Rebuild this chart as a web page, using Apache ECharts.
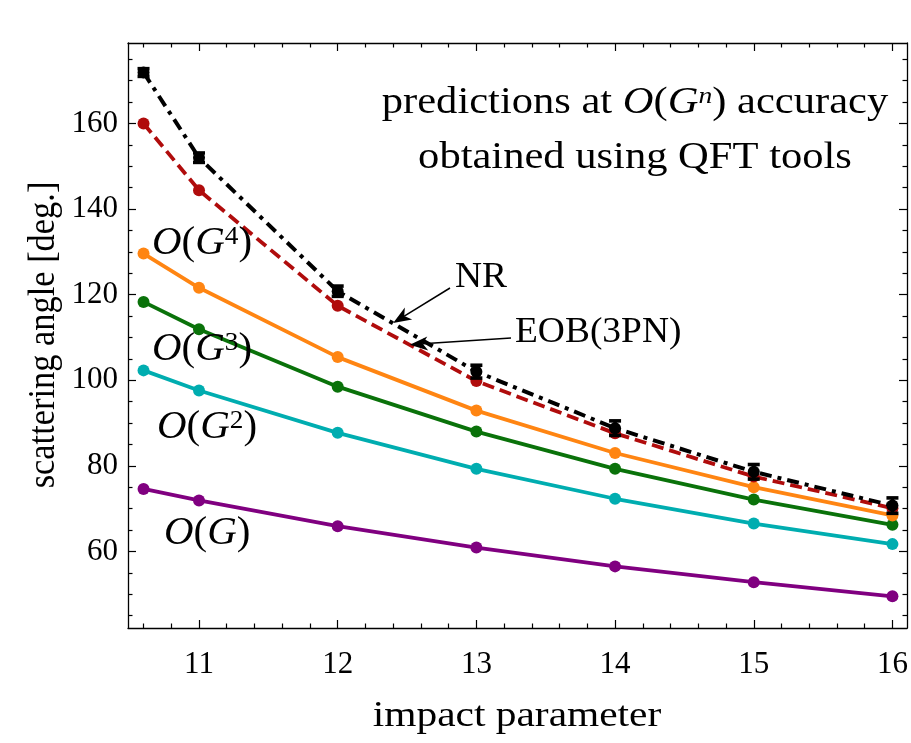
<!DOCTYPE html>
<html>
<head>
<meta charset="utf-8">
<title>Scattering angle vs impact parameter</title>
<script src="https://cdn.jsdelivr.net/npm/echarts@6/dist/echarts.min.js"></script>
<style>
  html, body { margin: 0; padding: 0; background: #fff; }
  #chart { width: 911px; height: 743px; }
</style>
</head>
<body>
<div id="chart"></div>
<script>
// Impact parameter values and scattering angles (degrees)
const impact = [10.6, 11, 12, 13, 14, 15, 16];
const nrAngle = [171.9, 152.0, 120.8, 102.0, 88.8, 78.6, 70.7];
const nrError = [0.9, 1.1, 1.2, 1.5, 1.7, 1.7, 1.8];
const eobAngle = [160.0, 144.4, 117.4, 99.8, 87.6, 77.5, 70.1];
const g4Angle = [129.6, 121.6, 105.4, 92.9, 83.0, 75.0, 68.4];
const g3Angle = [118.3, 111.9, 98.5, 88.0, 79.3, 72.1, 66.2];
const g2Angle = [102.3, 97.6, 87.7, 79.3, 72.3, 66.5, 61.7];
const g1Angle = [74.6, 71.9, 65.9, 60.9, 56.5, 52.8, 49.5];

// Tick positions
const xMajor = [11, 12, 13, 14, 15, 16];
const xMinor = [10.6, 10.8, 11.2, 11.4, 11.6, 11.8, 12.2, 12.4, 12.6, 12.8,
                13.2, 13.4, 13.6, 13.8, 14.2, 14.4, 14.6, 14.8, 15.2, 15.4, 15.6, 15.8];
const yMajor = [60, 80, 100, 120, 140, 160];
const yMinor = [45, 50, 55, 65, 70, 75, 85, 90, 95, 105, 110, 115,
                125, 130, 135, 145, 150, 155, 165, 170, 175];

const X_MIN = 10.488, X_MAX = 16.105;
const Y_MIN = 42.1, Y_MAX = 178.8;

const FONT = '"Liberation Serif", "DejaVu Serif", serif';
const pairs = (ys) => impact.map((x, i) => [x, ys[i]]);

function axis(kind, position, ticks, len, withLine, labels) {
  const isX = kind === 'x';
  return {
    type: 'value',
    position: position,
    min: isX ? X_MIN : Y_MIN,
    max: isX ? X_MAX : Y_MAX,
    splitLine: { show: false },
    axisLine: { show: withLine, onZero: false, lineStyle: { color: '#000', width: 1.3 } },
    axisTick: { show: true, inside: true, length: len, customValues: ticks,
                lineStyle: { color: '#000', width: 1.2 } },
    axisLabel: labels ? {
      show: true, customValues: labels, color: '#000',
      fontFamily: FONT, fontSize: 31, margin: isX ? 21 : 10
    } : { show: false }
  };
}

const colored = (name, ys, color, dash, z) => ({
  name: name,
  type: 'line',
  data: pairs(ys),
  xAxisIndex: 0,
  yAxisIndex: 0,
  symbol: 'circle',
  symbolSize: 12,
  z: z,
  itemStyle: { color: color },
  lineStyle: { color: color, width: 3.8, type: dash || 'solid' },
  emphasis: { disabled: true },
  animation: false
});

const chart = echarts.init(document.getElementById('chart'), null, { renderer: 'canvas' });

chart.setOption({
  backgroundColor: '#fff',
  animation: false,
  grid: { left: 128, right: 4, top: 43, bottom: 115, containLabel: false },
  xAxis: [
    axis('x', 'bottom', xMajor, 8, true, xMajor),
    axis('x', 'bottom', xMinor, 4.5, false, null),
    axis('x', 'top', xMajor, 8, true, null),
    axis('x', 'top', xMinor, 4.5, false, null)
  ],
  yAxis: [
    axis('y', 'left', yMajor, 8, true, yMajor),
    axis('y', 'left', yMinor, 4.5, false, null),
    axis('y', 'right', yMajor, 8, true, null),
    axis('y', 'right', yMinor, 4.5, false, null)
  ],
  series: [
    colored('O(G)', g1Angle, '#800080', 'solid', 2),
    colored('O(G^2)', g2Angle, '#00adb0', 'solid', 3),
    colored('O(G^3)', g3Angle, '#0a720a', 'solid', 4),
    colored('O(G^4)', g4Angle, '#ff8512', 'solid', 5),
    colored('EOB(3PN)', eobAngle, '#b00c0c', [12, 6], 6),
    {
      name: 'NR',
      type: 'line',
      data: pairs(nrAngle),
      symbol: 'circle',
      symbolSize: 12,
      z: 8,
      itemStyle: { color: '#000' },
      lineStyle: { color: '#000', width: 4, type: [12, 6, 4, 6] },
      emphasis: { disabled: true },
      animation: false
    },
    {
      name: 'NR error',
      type: 'custom',
      z: 9,
      data: impact.map((x, i) => [x, nrAngle[i], nrError[i]]),
      renderItem: function (params, api) {
        const x = api.value(0), y = api.value(1), e = api.value(2);
        const top = api.coord([x, y + e]);
        const bot = api.coord([x, y - e]);
        const hw = 6;
        const st = { stroke: '#000', lineWidth: 3.6 };
        return {
          type: 'group',
          children: [
            { type: 'line', shape: { x1: top[0], y1: top[1], x2: bot[0], y2: bot[1] }, style: st },
            { type: 'line', shape: { x1: top[0] - hw, y1: top[1], x2: top[0] + hw, y2: top[1] }, style: st },
            { type: 'line', shape: { x1: bot[0] - hw, y1: bot[1], x2: bot[0] + hw, y2: bot[1] }, style: st }
          ]
        };
      },
      animation: false
    }
  ]
});

// Math-style labels: italic O and G with raised exponents
function richStyles(size, italicSup) {
  return {
    i: { fontFamily: FONT, fontStyle: 'italic', fontSize: size, fill: '#000' },
    n: { fontFamily: FONT, fontSize: size, fill: '#000' },
    s: { fontFamily: FONT, fontStyle: italicSup ? 'italic' : 'normal',
         fontSize: Math.round(size * 0.66), fill: '#000', verticalAlign: 'top' }
  };
}

function mathLabel(x, y, power) {
  const sup = power ? '{s|' + power + '}' : '';
  return {
    type: 'text', x: x, y: y, z: 20, scaleX: 1.05,
    style: {
      text: '{i|O}{n|(}{i|G}' + sup + '{n|)}',
      rich: richStyles(39, false), align: 'left', verticalAlign: 'middle'
    }
  };
}

function plainText(x, y, text, size, align, sx, rot) {
  return {
    type: 'text', x: x, y: y, z: 20, scaleX: sx || 1, rotation: rot || 0,
    style: {
      text: text, font: size + 'px ' + FONT, fill: '#000',
      align: align || 'left', verticalAlign: 'middle'
    }
  };
}

// Filled arrow from a tail point to a tip given in data coordinates
function arrow(tail, tipData) {
  const tip = chart.convertToPixel({ xAxisIndex: 0, yAxisIndex: 0 }, tipData);
  const dx = tip[0] - tail[0], dy = tip[1] - tail[1];
  const L = Math.hypot(dx, dy), ux = dx / L, uy = dy / L;
  const hl = 18, hw = 7;
  const bx = tip[0] - ux * hl, by = tip[1] - uy * hl;
  const nx = -uy, ny = ux;
  return [
    { type: 'line', z: 20, shape: { x1: tail[0], y1: tail[1], x2: bx + ux * 5, y2: by + uy * 5 },
      style: { stroke: '#000', lineWidth: 1.5 } },
    { type: 'polygon', z: 20,
      shape: { points: [
        [tip[0], tip[1]],
        [bx + nx * hw, by + ny * hw],
        [bx + ux * 5, by + uy * 5],
        [bx - nx * hw, by - ny * hw]
      ] },
      style: { fill: '#000' } }
  ];
}

const graphics = [
  {
    type: 'text', x: 635, y: 103, z: 20, scaleX: 1.15,
    style: {
      text: 'predictions at {i|O}{n|(}{i|G}{s|n}{n|)} accuracy',
      font: '37px ' + FONT, fill: '#000', rich: richStyles(37, true),
      align: 'center', verticalAlign: 'middle'
    }
  },
  plainText(635, 158, 'obtained using QFT tools', 37, 'center', 1.15),
  // axis titles
  plainText(517, 717, 'impact parameter', 36, 'center', 1.15),
  plainText(44, 335, 'scattering angle [deg.]', 37, 'center', 0.93, Math.PI / 2),
  mathLabel(152, 244, '4'),
  mathLabel(152, 350, '3'),
  mathLabel(157, 428, '2'),
  mathLabel(164, 534, null),
  plainText(455, 278, 'NR', 36, 'left', 1.04),
  plainText(515, 333, 'EOB(3PN)', 36, 'left', 1.04)
].concat(
  arrow([450, 288], [12.40, 113.4]),
  arrow([511, 338], [12.52, 108.3])
);

chart.setOption({ graphic: graphics });
</script>
</body>
</html>
